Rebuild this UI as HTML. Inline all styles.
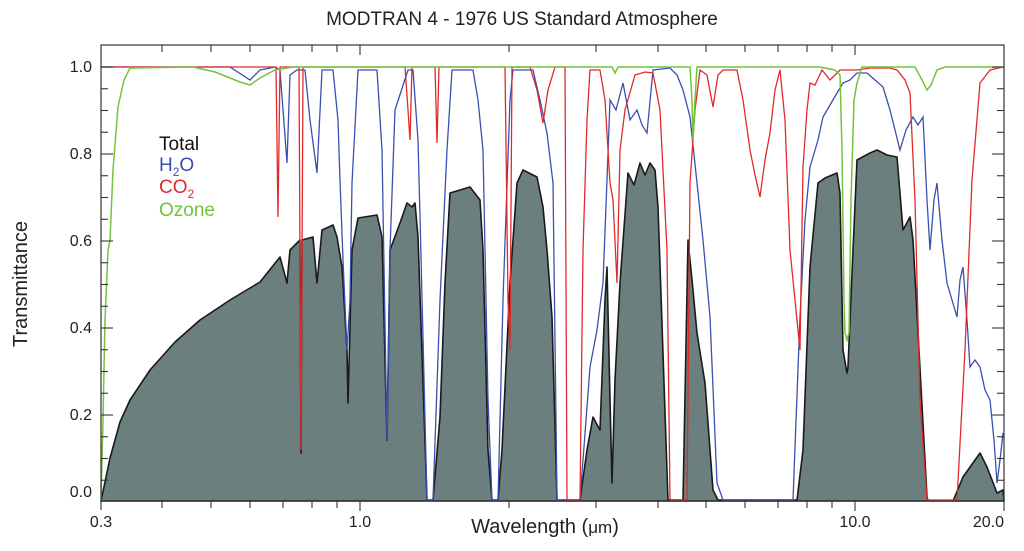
<!DOCTYPE html>
<html><head><meta charset="utf-8"><style>
html,body{margin:0;padding:0;background:#fff;}
svg{display:block;font-family:"Liberation Sans",Arial,sans-serif;}
</style></head><body>
<svg width="1024" height="551" viewBox="0 0 1024 551" xmlns="http://www.w3.org/2000/svg">
<rect width="1024" height="551" fill="#fff"/>
<text x="522" y="25" font-size="19" text-anchor="middle" fill="#222">MODTRAN 4 - 1976 US Standard Atmosphere</text>

<polygon fill="#6b7f7e" stroke="#1a1a1a" stroke-width="1.6" stroke-linejoin="round" points="
101,501 105,482 110,458 120,422 130,400 150,370 175,342 200,320 230,300 260,282 280,257 287,283 290,250 293,247 300,240 301,453 302,240 313,237 317,283 322,230 333,225 337,237 342,267 347,350 348,403 352,250 358,218 377,215 382,237 387,440 390,250 400,223 407,203 412,207 415,203 418,237 423,383 427,500 433,500 440,417 445,283 450,193 470,187 480,200 483,250 488,450 492,500 498,500 502,450 510,283 517,183 523,170 537,177 543,207 547,250 552,317 557,500 580,500 587,450 593,417 600,430 605,300 607,267 610,400 612,483 615,380 620,283 628,173 634,185 640,163 645,175 650,163 655,170 658,207 668,500 683,500 688,240 692,280 697,333 705,383 713,490 718,500 797,500 800,475 803,450 810,267 818,183 825,178 837,173 840,193 843,350 847,373 848,367 853,250 857,160 870,153 877,150 887,155 897,157 903,230 910,217 913,240 927,497 928,501 953,501 963,477 980,453 987,467 997,493 1003,490 1004,501"/>

<polyline fill="none" stroke="#3a4fb0" stroke-width="1.3" points="
101,67 230,67 250,80 260,70 275,67 280,70 287,163 290,75 297,70 305,70 310,120 317,173 322,70 333,70 338,120 340,180 343,260 347,350 350,300 352,183 358,70 377,70 382,150 387,440 390,250 395,110 408,70 413,70 418,140 420,217 427,500 433,500 440,300 447,150 452,70 473,70 478,100 483,150 488,400 492,500 498,500 503,300 510,100 513,70 533,70 540,100 547,133 553,183 557,500 580,500 590,367 597,330 603,283 607,180 610,100 616,110 623,83 630,120 637,110 642,125 647,133 653,70 670,68 677,75 683,90 690,117 697,183 703,240 710,317 717,483 723,500 793,500 800,317 805,220 810,167 818,140 823,117 830,105 837,93 843,83 850,80 857,73 867,73 875,80 883,87 890,110 900,150 906,130 913,117 918,125 923,117 927,200 930,250 934,200 937,183 942,240 947,283 952,300 957,317 960,280 963,267 967,320 970,367 975,360 980,367 985,390 990,400 994,440 997,483 1000,460 1003,433"/>

<polyline fill="none" stroke="#e02a2a" stroke-width="1.3" points="
101,67 276,67 278,217 280,67 299,67 301,450 303,67 405,67 408,110 410,140 412,67 435,67 437,143 439,67 500,67 505,67 508,300 510,350 512,67 530,67 537,90 543,123 548,90 555,67 565,67 567,500 580,500 583,250 587,120 590,70 600,70 605,100 610,183 613,200 617,283 620,150 625,110 635,75 645,72 653,73 660,110 667,250 670,500 687,500 690,183 695,110 700,70 707,75 713,107 718,75 723,70 737,70 743,100 750,150 755,175 760,197 765,160 770,133 775,90 780,70 785,120 790,250 795,300 800,350 803,167 807,110 810,83 815,85 822,70 830,80 840,70 857,70 870,68 890,68 897,70 905,80 910,93 915,200 920,400 927,500 957,500 965,350 972,180 980,83 990,70 1003,67"/>

<polyline fill="none" stroke="#72c43c" stroke-width="1.5" points="
101,501 103,420 105,320 108,250 110,240 113,170 118,107 124,80 130,68 193,67 215,72 240,82 250,85 260,78 275,70 293,67 612,67 615,73 618,67 690,67 692,100 693,140 695,100 697,67 820,67 835,70 840,75 842,150 844,300 845,333 847,340 849,333 851,200 854,100 857,83 862,67 915,67 922,80 927,90 931,85 937,70 945,67 1003,67"/>

<rect x="101" y="45" width="903" height="456" fill="none" stroke="#333" stroke-width="1.2"/>

<g stroke="#333" stroke-width="1.1">
<line x1="101" y1="67" x2="113" y2="67"/><line x1="101" y1="154" x2="113" y2="154"/><line x1="101" y1="241" x2="113" y2="241"/><line x1="101" y1="328" x2="113" y2="328"/><line x1="101" y1="415" x2="113" y2="415"/>
<line x1="992" y1="67" x2="1004" y2="67"/><line x1="992" y1="154" x2="1004" y2="154"/><line x1="992" y1="241" x2="1004" y2="241"/><line x1="992" y1="328" x2="1004" y2="328"/><line x1="992" y1="415" x2="1004" y2="415"/>
<line x1="101" y1="88.75" x2="108" y2="88.75"/><line x1="101" y1="110.5" x2="108" y2="110.5"/><line x1="101" y1="132.25" x2="108" y2="132.25"/>
<line x1="101" y1="175.75" x2="108" y2="175.75"/><line x1="101" y1="197.5" x2="108" y2="197.5"/><line x1="101" y1="219.25" x2="108" y2="219.25"/>
<line x1="101" y1="262.75" x2="108" y2="262.75"/><line x1="101" y1="284.5" x2="108" y2="284.5"/><line x1="101" y1="306.25" x2="108" y2="306.25"/>
<line x1="101" y1="349.75" x2="108" y2="349.75"/><line x1="101" y1="371.5" x2="108" y2="371.5"/><line x1="101" y1="393.25" x2="108" y2="393.25"/>
<line x1="101" y1="436.75" x2="108" y2="436.75"/><line x1="101" y1="458.5" x2="108" y2="458.5"/><line x1="101" y1="480.25" x2="108" y2="480.25"/>
<line x1="997" y1="88.75" x2="1004" y2="88.75"/><line x1="997" y1="110.5" x2="1004" y2="110.5"/><line x1="997" y1="132.25" x2="1004" y2="132.25"/>
<line x1="997" y1="175.75" x2="1004" y2="175.75"/><line x1="997" y1="197.5" x2="1004" y2="197.5"/><line x1="997" y1="219.25" x2="1004" y2="219.25"/>
<line x1="997" y1="262.75" x2="1004" y2="262.75"/><line x1="997" y1="284.5" x2="1004" y2="284.5"/><line x1="997" y1="306.25" x2="1004" y2="306.25"/>
<line x1="997" y1="349.75" x2="1004" y2="349.75"/><line x1="997" y1="371.5" x2="1004" y2="371.5"/><line x1="997" y1="393.25" x2="1004" y2="393.25"/>
<line x1="997" y1="436.75" x2="1004" y2="436.75"/><line x1="997" y1="458.5" x2="1004" y2="458.5"/><line x1="997" y1="480.25" x2="1004" y2="480.25"/>
<line x1="101" y1="501" x2="101" y2="510"/><line x1="162" y1="501" x2="162" y2="508"/><line x1="211" y1="501" x2="211" y2="508"/><line x1="250" y1="501" x2="250" y2="508"/><line x1="283" y1="501" x2="283" y2="508"/><line x1="312" y1="501" x2="312" y2="508"/><line x1="337" y1="501" x2="337" y2="508"/><line x1="360" y1="501" x2="360" y2="511"/>
<line x1="509" y1="501" x2="509" y2="508"/><line x1="596" y1="501" x2="596" y2="508"/><line x1="658" y1="501" x2="658" y2="508"/><line x1="706" y1="501" x2="706" y2="508"/><line x1="745" y1="501" x2="745" y2="508"/><line x1="778" y1="501" x2="778" y2="508"/><line x1="807" y1="501" x2="807" y2="508"/><line x1="832" y1="501" x2="832" y2="508"/><line x1="855" y1="501" x2="855" y2="511"/><line x1="1004" y1="501" x2="1004" y2="511"/>
<line x1="162" y1="45" x2="162" y2="52"/><line x1="211" y1="45" x2="211" y2="52"/><line x1="250" y1="45" x2="250" y2="52"/><line x1="283" y1="45" x2="283" y2="52"/><line x1="312" y1="45" x2="312" y2="52"/><line x1="337" y1="45" x2="337" y2="52"/><line x1="360" y1="45" x2="360" y2="55"/>
<line x1="509" y1="45" x2="509" y2="52"/><line x1="596" y1="45" x2="596" y2="52"/><line x1="658" y1="45" x2="658" y2="52"/><line x1="706" y1="45" x2="706" y2="52"/><line x1="745" y1="45" x2="745" y2="52"/><line x1="778" y1="45" x2="778" y2="52"/><line x1="807" y1="45" x2="807" y2="52"/><line x1="832" y1="45" x2="832" y2="52"/><line x1="855" y1="45" x2="855" y2="55"/>
</g>

<g font-size="16" fill="#222">
<text x="92" y="72" text-anchor="end">1.0</text>
<text x="92" y="159" text-anchor="end">0.8</text>
<text x="92" y="246" text-anchor="end">0.6</text>
<text x="92" y="333" text-anchor="end">0.4</text>
<text x="92" y="420" text-anchor="end">0.2</text>
<text x="92" y="497" text-anchor="end">0.0</text>
<text x="101" y="527" text-anchor="middle">0.3</text>
<text x="360" y="527" text-anchor="middle">1.0</text>
<text x="855" y="527" text-anchor="middle">10.0</text>
<text x="1004" y="527" text-anchor="end">20.0</text>
</g>
<text x="545" y="533" font-size="20" text-anchor="middle" fill="#222">Wavelength (<tspan font-size="17">μm</tspan>)</text>
<text transform="translate(27,284) rotate(-90)" font-size="20" text-anchor="middle" fill="#222">Transmittance</text>

<g font-size="19">
<text x="159" y="150" fill="#111">Total</text>
<text x="159" y="171" fill="#3a4fb0">H<tspan font-size="12" dy="5">2</tspan><tspan dy="-5">O</tspan></text>
<text x="159" y="193" fill="#e02a2a">CO<tspan font-size="12" dy="5">2</tspan></text>
<text x="159" y="216" fill="#72c43c">Ozone</text>
</g>
</svg>
</body></html>
